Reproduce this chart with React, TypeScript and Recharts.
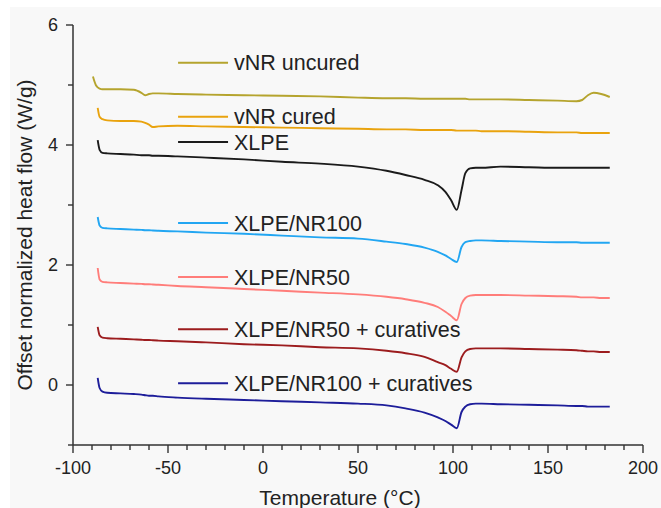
import { LineChart, Line, XAxis, YAxis, ReferenceLine } from "recharts";

// temperature grid shared by all DSC traces (°C)
const TEMP = [
  -89.5, -88, -87, -86, -84.5, -82, -75, -68, -64, -62, -60, -58, -55, -45, -30, -10, 10, 30, 50, 65,
  75, 85, 92, 96, 99, 102, 104.5, 106.5, 109, 112, 115, 125, 140, 155, 165, 168, 171, 174, 178, 182.5
];

// offset normalized heat flow (W/g)
const VNR_UNCURED = [
  5.14, 5.0, 4.96, 4.94, 4.93, 4.93, 4.93, 4.92, 4.87, 4.83, 4.85, 4.86, 4.86, 4.85, 4.84, 4.83, 4.82, 4.81, 4.79, 4.78,
  4.78, 4.77, 4.77, 4.77, 4.77, 4.77, 4.77, 4.77, 4.76, 4.76, 4.76, 4.76, 4.75, 4.74, 4.73, 4.75, 4.83, 4.87, 4.85, 4.8
];
const VNR_CURED = [
  null, null, 4.62, 4.47, 4.43, 4.41, 4.4, 4.4, 4.39, 4.37, 4.34, 4.3, 4.31, 4.32, 4.31, 4.3, 4.29, 4.28, 4.27, 4.26,
  4.26, 4.25, 4.25, 4.25, 4.25, 4.24, 4.24, 4.24, 4.24, 4.24, 4.23, 4.23, 4.22, 4.21, 4.21, 4.2, 4.2, 4.2, 4.2, 4.2
];
const XLPE = [
  null, null, 4.08, 3.92, 3.87, 3.86, 3.85, 3.84, 3.83, 3.83, 3.83, 3.82, 3.82, 3.81, 3.79, 3.76, 3.72, 3.69, 3.64, 3.57,
  3.5, 3.42, 3.33, 3.22, 3.08, 2.92, 3.25, 3.53, 3.61, 3.62, 3.62, 3.64, 3.63, 3.62, 3.62, 3.62, 3.62, 3.62, 3.62, 3.62
];
const XLPE_NR100 = [
  null, null, 2.8, 2.66, 2.62, 2.61, 2.6, 2.59, 2.585, 2.58, 2.58, 2.575, 2.57, 2.56, 2.54, 2.52, 2.49, 2.46, 2.44, 2.39,
  2.35, 2.29, 2.22, 2.16, 2.1, 2.05, 2.3, 2.38, 2.4, 2.41, 2.41, 2.4, 2.39, 2.38, 2.38, 2.37, 2.37, 2.37, 2.37, 2.37
];
const XLPE_NR50 = [
  null, null, 1.95, 1.76, 1.72, 1.71, 1.7, 1.69, 1.685, 1.68, 1.68, 1.675, 1.67, 1.65, 1.63, 1.6, 1.57, 1.54, 1.51, 1.47,
  1.43, 1.37, 1.3, 1.22, 1.15, 1.08, 1.35, 1.45, 1.49, 1.5, 1.5, 1.5, 1.49, 1.48, 1.47, 1.46, 1.46, 1.46, 1.45, 1.45
];
const XLPE_NR50_CUR = [
  null, null, 0.97, 0.83, 0.79, 0.78, 0.77, 0.76, 0.755, 0.75, 0.75, 0.745, 0.74, 0.73, 0.71, 0.68, 0.66, 0.63, 0.61, 0.57,
  0.53, 0.47, 0.38, 0.33, 0.27, 0.22, 0.46, 0.56, 0.6, 0.61, 0.61, 0.61, 0.6, 0.59, 0.58, 0.57, 0.56, 0.56, 0.55, 0.55
];
const XLPE_NR100_CUR = [
  null, null, 0.12, -0.05, -0.11, -0.13, -0.14, -0.15, -0.16, -0.17, -0.18, -0.18, -0.19, -0.21, -0.23, -0.25, -0.27, -0.29, -0.31, -0.34,
  -0.39, -0.46, -0.54, -0.6, -0.66, -0.72, -0.45, -0.36, -0.32, -0.31, -0.31, -0.32, -0.33, -0.34, -0.35, -0.35, -0.36, -0.36, -0.36, -0.36
];

const X_TICKS = [
  -100, -90, -80, -70, -60, -50, -40, -30, -20, -10, 0, 10, 20, 30, 40, 50, 60, 70, 80, 90, 100,
  110, 120, 130, 140, 150, 160, 170, 180, 190, 200
];
const X_LABELS = [-100, -50, 0, 50, 100, 150, 200];
const Y_TICKS = [-1, 0, 1, 2, 3, 4, 5, 6];
const Y_LABELS = [0, 2, 4, 6];

const SERIES = [
  { key: "vnrUncured", name: "vNR uncured", color: "#b5a42e", values: VNR_UNCURED },
  { key: "vnrCured", name: "vNR cured", color: "#e9a30e", values: VNR_CURED },
  { key: "xlpe", name: "XLPE", color: "#1b1b1b", values: XLPE },
  { key: "xlpeNr100", name: "XLPE/NR100", color: "#22a6f2", values: XLPE_NR100 },
  { key: "xlpeNr50", name: "XLPE/NR50", color: "#ff7d7a", values: XLPE_NR50 },
  { key: "xlpeNr50Cur", name: "XLPE/NR50 + curatives", color: "#9c1c1e", values: XLPE_NR50_CUR },
  { key: "xlpeNr100Cur", name: "XLPE/NR100 + curatives", color: "#1d1d9a", values: XLPE_NR100_CUR }
];

// where the in-plot legend rows sit (data units)
const LEGEND_Y = [5.37, 4.47, 4.05, 2.7, 1.8, 0.93, 0.03];
const LEGEND_X = [-44.7, -18.4];

const data = TEMP.map((t, i) => {
  const row: Record<string, number | null> = { t };
  SERIES.forEach((s) => {
    row[s.key] = s.values[i];
  });
  return row;
});

const FONT = '"Liberation Sans", Arial, sans-serif';
const INK = "#222";
const AXIS = "#333";

const XTick = ({ x, y, payload }: any) => {
  const major = X_LABELS.includes(payload.value);
  return (
    <g>
      <line x1={x} x2={x} y1={y} y2={y + (major ? 8 : 5)} stroke={AXIS} strokeWidth={1.4} />
      {major && (
        <text x={x} y={y + 29} textAnchor="middle" fontSize={18} fill={INK} fontFamily={FONT}>
          {payload.value}
        </text>
      )}
    </g>
  );
};

const YTick = ({ x, y, payload }: any) => {
  const major = Y_LABELS.includes(payload.value);
  return (
    <g>
      <line x1={x} x2={x - (major ? 7 : 5)} y1={y} y2={y} stroke={AXIS} strokeWidth={1.4} />
      {major && (
        <text x={x - 15} y={y} dy="0.35em" textAnchor="end" fontSize={18} fill={INK} fontFamily={FONT}>
          {payload.value}
        </text>
      )}
    </g>
  );
};

export default function App() {
  return (
    <div style={{ position: "absolute", left: 0, top: 0, width: 661, height: 508, background: "#fff" }}>
      <div
        style={{ position: "absolute", left: 10, top: 7, right: 0, bottom: 0, background: "#f8f8f8" }}
      />
      <div style={{ position: "absolute", left: 0, top: 0 }}>
        <LineChart
          width={661}
          height={508}
          data={data}
          margin={{ top: 25, right: 18, bottom: 0, left: 0 }}
          style={{ fontFamily: FONT }}
        >
          <XAxis
            dataKey="t"
            type="number"
            domain={[-100, 200]}
            ticks={X_TICKS}
            interval={0}
            height={63}
            tickSize={0}
            tickMargin={0}
            tick={<XTick />}
            axisLine={{ stroke: AXIS, strokeWidth: 1.5 }}
            label={{
              value: "Temperature (°C)",
              position: "insideBottom",
              offset: 3,
              dx: -18,
              fontSize: 21,
              fill: INK,
              fontFamily: FONT
            }}
          />
          <YAxis
            type="number"
            domain={[-1, 6]}
            ticks={Y_TICKS}
            interval={0}
            width={73}
            tickSize={0}
            tickMargin={0}
            tick={<YTick />}
            axisLine={{ stroke: AXIS, strokeWidth: 1.5 }}
            label={{
              content: () => (
                <text
                  x={32}
                  y={235}
                  transform="rotate(-90, 32, 235)"
                  textAnchor="middle"
                  fontSize={21}
                  fill={INK}
                  fontFamily={FONT}
                >
                  Offset normalized heat flow (W/g)
                </text>
              )
            }}
          />
          {SERIES.map((s) => (
            <Line
              key={s.key}
              dataKey={s.key}
              type="monotone"
              stroke={s.color}
              strokeWidth={1.9}
              dot={false}
              activeDot={false}
              isAnimationActive={false}
            />
          ))}
          {SERIES.map((s, i) => (
            <ReferenceLine
              key={`leg-${s.key}`}
              segment={[
                { x: LEGEND_X[0], y: LEGEND_Y[i] },
                { x: LEGEND_X[1], y: LEGEND_Y[i] }
              ]}
              stroke={s.color}
              strokeWidth={1.9}
              label={{
                value: s.name,
                position: "right",
                offset: 6,
                fontSize: 21.5,
                fill: INK,
                fontFamily: FONT
              }}
            />
          ))}
        </LineChart>
      </div>
    </div>
  );
}
